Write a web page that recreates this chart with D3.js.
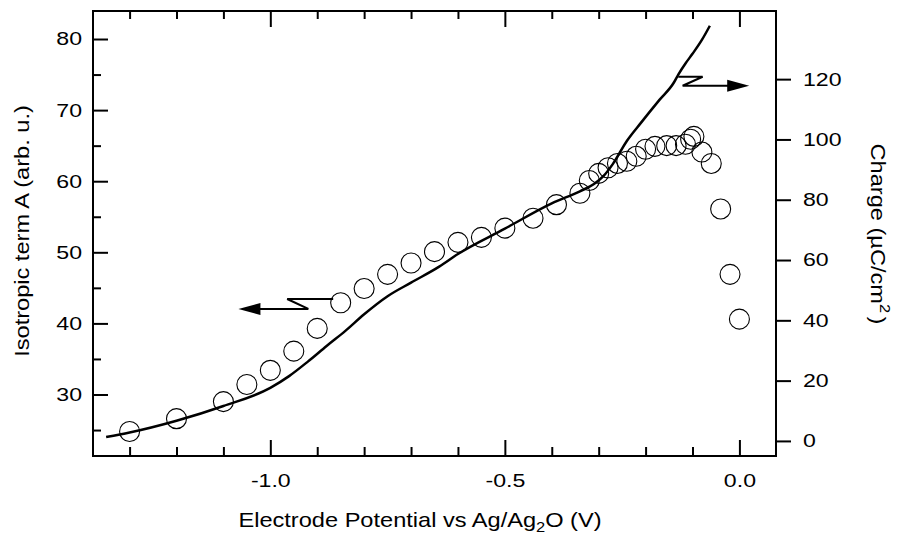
<!DOCTYPE html>
<html>
<head>
<meta charset="utf-8">
<script src="https://cdn.jsdelivr.net/npm/d3@7"></script>
<style>
  body { margin: 0; background: #fff; }
  text { font-family: "Liberation Sans", Arial, sans-serif; fill: #000; }
</style>
</head>
<body>
<div id="chart"></div>
<script>
// isotropic term A (open circles, left axis)
const potentialA = [-1.30, -1.20, -1.10, -1.05, -1.00, -0.95, -0.90, -0.85, -0.80, -0.75, -0.70, -0.65,
  -0.60, -0.55, -0.50, -0.44, -0.39, -0.34, -0.32, -0.30, -0.28, -0.26, -0.24, -0.22, -0.20, -0.18,
  -0.155, -0.135, -0.115, -0.104, -0.097, -0.08, -0.06, -0.04, -0.02, 0.00];
const isoA = [24.8, 26.6, 29.0, 31.4, 33.4, 36.1, 39.3, 42.9, 44.9, 46.9, 48.5, 50.1,
  51.4, 52.1, 53.4, 54.8, 56.7, 58.3, 60.1, 61.1, 61.9, 62.5, 62.8, 63.5, 64.5, 64.9,
  65.0, 65.0, 65.2, 65.9, 66.3, 64.1, 62.5, 56.1, 46.9, 40.6];

// charge (solid line, right axis)
const potentialQ = [-1.35, -1.30, -1.20, -1.10, -1.00, -0.96, -0.92, -0.88, -0.84, -0.80, -0.75, -0.70,
  -0.64, -0.60, -0.50, -0.40, -0.34, -0.31, -0.29, -0.27, -0.24, -0.21, -0.17, -0.14, -0.13,
  -0.115, -0.10, -0.08, -0.063];
const charge = [1.3, 2.8, 6.7, 11.6, 17.6, 21.5, 26.3, 31.5, 36.5, 42.0, 48.0, 52.5,
  57.8, 62.0, 70.4, 78.8, 82.8, 85.2, 87.8, 91.8, 99.5, 105.5, 113.2, 118.8, 121.6,
  125.2, 128.4, 133.0, 137.7];

const xMajor = [-1.0, -0.5, 0.0];
const xMinor = [-1.3, -1.2, -1.1, -0.9, -0.8, -0.7, -0.6, -0.4, -0.3, -0.2, -0.1];
const leftMajor = [30, 40, 50, 60, 70, 80];
const leftMinor = [25, 35, 45, 55, 65, 75];
const rightTicks = [0, 20, 40, 60, 80, 100, 120];

// annotation arrows, in data units
const leftArrow = [[-0.866, 43.43], [-0.964, 43.43], [-0.919, 42.03], [-1.045, 42.03]];
const leftArrowTip = [-1.068, 42.03];
const rightArrow = [[-0.1304, 120.8], [-0.0784, 120.8], [-0.121, 117.8], [-0.003, 117.8]];
const rightArrowTip = [0.0209, 117.8];

const width = 901, height = 536;
const margin = { top: 11, right: 125, bottom: 80, left: 93 };
const innerW = width - margin.left - margin.right;
const innerH = height - margin.top - margin.bottom;
const sx = 1.25; // tick text is wide

const svg = d3.select("#chart").append("svg")
  .attr("width", width).attr("height", height);
const g = svg.append("g").attr("transform", `translate(${margin.left},${margin.top})`);

const x = d3.scaleLinear().domain([-1.378, 0.078]).range([0, innerW]);
const yL = d3.scaleLinear().domain([21.35, 83.94]).range([innerH, 0]);
const yR = d3.scaleLinear().domain([-5.0, 142.6]).range([innerH, 0]);

function styleAxis(sel) {
  sel.select(".domain").remove();
  sel.selectAll("line").attr("stroke", "#000").attr("stroke-width", 2);
  sel.selectAll("text").style("font-size", "18.5px").attr("fill", "#000");
}

// bottom axis
g.append("g").attr("transform", `translate(0,${innerH})`)
  .call(d3.axisBottom(x).tickValues(xMajor).tickSizeInner(-16).tickSizeOuter(0)
    .tickFormat(d => d.toFixed(1)))
  .call(styleAxis)
  .call(s => s.selectAll("text").attr("y", 30.7).attr("dy", null)
    .attr("transform", `scale(${sx},1)`));
g.append("g").attr("transform", `translate(0,${innerH})`)
  .call(d3.axisBottom(x).tickValues(xMinor).tickSizeInner(-9).tickSizeOuter(0).tickFormat(""))
  .call(styleAxis);

// top axis
g.append("g")
  .call(d3.axisTop(x).tickValues(xMajor).tickSizeInner(-16).tickSizeOuter(0).tickFormat(""))
  .call(styleAxis);
g.append("g")
  .call(d3.axisTop(x).tickValues(xMinor).tickSizeInner(-8).tickSizeOuter(0).tickFormat(""))
  .call(styleAxis);

// left axis
g.append("g")
  .call(d3.axisLeft(yL).tickValues(leftMajor).tickSizeInner(-15).tickSizeOuter(0))
  .call(styleAxis)
  .call(s => s.selectAll("text").attr("x", -11 / sx).attr("transform", `scale(${sx},1)`));
g.append("g")
  .call(d3.axisLeft(yL).tickValues(leftMinor).tickSizeInner(-8).tickSizeOuter(0).tickFormat(""))
  .call(styleAxis);

// right axis (ticks outside)
g.append("g").attr("transform", `translate(${innerW},0)`)
  .call(d3.axisRight(yR).tickValues(rightTicks).tickSizeInner(15).tickSizeOuter(0))
  .call(styleAxis)
  .call(s => s.selectAll("text").attr("x", 27 / sx).attr("transform", `scale(${sx},1)`));

// frame
g.append("rect").attr("width", innerW).attr("height", innerH)
  .attr("fill", "none").attr("stroke", "#000").attr("stroke-width", 2);

// charge line
const line = d3.line()
  .x((d, i) => x(potentialQ[i]))
  .y(d => yR(d))
  .curve(d3.curveMonotoneX);
g.append("path").datum(charge)
  .attr("d", line)
  .attr("fill", "none").attr("stroke", "#000").attr("stroke-width", 2.5);

// isotropic term circles
g.selectAll(".pt").data(isoA).enter().append("circle")
  .attr("class", "pt")
  .attr("cx", (d, i) => x(potentialA[i]))
  .attr("cy", d => yL(d))
  .attr("r", 10)
  .attr("fill", "none").attr("stroke", "#000").attr("stroke-width", 1.1);

// arrows
function drawArrow(pts, tip, ys) {
  const p = pts.map(d => [x(d[0]), ys(d[1])]);
  g.append("path").attr("d", d3.line()(p))
    .attr("fill", "none").attr("stroke", "#000").attr("stroke-width", 2);
  const tx = x(tip[0]), ty = ys(tip[1]);
  const last = p[p.length - 1];
  const dir = Math.sign(tx - last[0]);
  const base = tx - dir * 22;
  g.append("path")
    .attr("d", `M${tx},${ty}L${base},${ty - 6}L${base},${ty + 6}Z`)
    .attr("fill", "#000");
}
drawArrow(leftArrow, leftArrowTip, yL);
drawArrow(rightArrow, rightArrowTip, yR);

// axis titles
const ts = 1.18;
const xt = svg.append("text")
  .attr("transform", `translate(${margin.left + 327},527) scale(${ts},1)`)
  .attr("text-anchor", "middle").style("font-size", "20px");
xt.append("tspan").text("Electrode Potential vs Ag/Ag");
xt.append("tspan").text("2").style("font-size", "14px").attr("dy", 5);
xt.append("tspan").text("O (V)").attr("dy", -5);

svg.append("text")
  .attr("transform", `translate(29,231) rotate(-90) scale(${ts},1)`)
  .attr("text-anchor", "middle").style("font-size", "20px")
  .text("Isotropic term A (arb. u.)");

const rt = svg.append("text")
  .attr("transform", `translate(871,234) rotate(90) scale(${ts},1)`)
  .attr("text-anchor", "middle").style("font-size", "20px");
rt.append("tspan").text("Charge (µC/cm");
rt.append("tspan").text("2").style("font-size", "14px").attr("dy", -9);
rt.append("tspan").text(")").attr("dy", 9).attr("dx", 3);
</script>
</body>
</html>
